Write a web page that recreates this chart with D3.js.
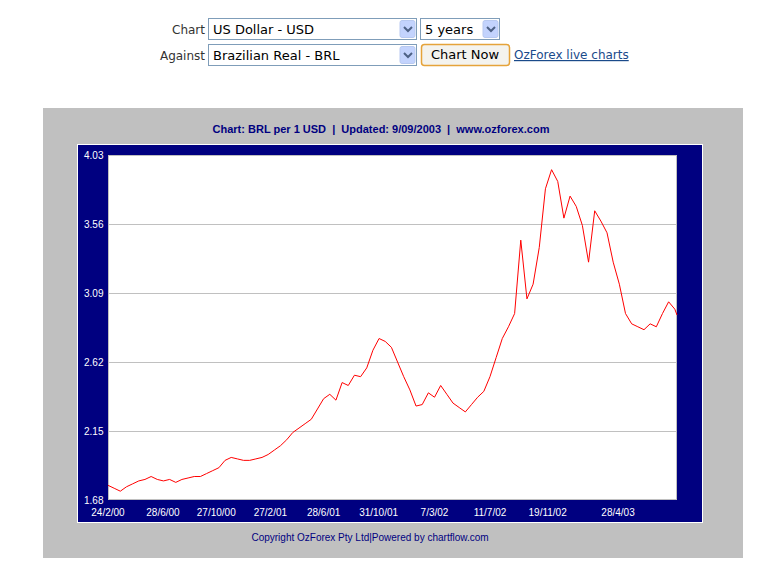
<!DOCTYPE html>
<html><head><meta charset="utf-8">
<script src="https://cdn.jsdelivr.net/npm/d3@7"></script>
<style>body{margin:0;background:#fff}</style>
</head><body>
<svg width="765" height="582"></svg>
<script>
// BRL per 1 USD, sampled roughly every two weeks from 24/2/00
const rates = [1.78,1.76,1.74,1.77,1.79,1.81,1.82,1.84,1.82,1.81,1.82,1.80,1.82,1.83,1.84,1.84,
  1.86,1.88,1.90,1.95,1.97,1.96,1.95,1.95,1.96,1.97,1.99,2.02,2.05,2.09,2.14,2.17,2.20,2.23,
  2.30,2.37,2.40,2.36,2.48,2.46,2.53,2.52,2.58,2.70,2.78,2.76,2.72,2.62,2.52,2.43,2.32,2.33,
  2.41,2.38,2.46,2.40,2.34,2.31,2.28,2.33,2.38,2.42,2.52,2.65,2.78,2.86,2.95,3.45,3.05,3.15,
  3.40,3.80,3.93,3.85,3.60,3.75,3.68,3.55,3.30,3.65,3.58,3.50,3.30,3.15,2.95,2.88,2.86,2.84,
  2.88,2.86,2.95,3.03,2.98];
const startDate = new Date(2000, 1, 24);
const endDate = new Date(2003, 8, 9);
const yTicks = [1.68, 2.15, 2.62, 3.09, 3.56, 4.03];
const xTickLabels = ["24/2/00","28/6/00","27/10/00","27/2/01","28/6/01","31/10/01","7/3/02","11/7/02","19/11/02","28/4/03"];

const parseDMY = d3.timeParse("%d/%m/%y");
const series = rates.map((v, i) => ({date: d3.timeDay.offset(startDate, Math.min(i * 14, 1293)), value: v}));
series.push({date: endDate, value: 2.94});

const svg = d3.select("svg");

// form controls
const ff = "Verdana, 'DejaVu Sans', sans-serif";
function label(x, y, t) {
  svg.append("text").attr("x", x).attr("y", y).attr("text-anchor", "end")
    .attr("font-family", ff).attr("font-size", 12).attr("fill", "#333").text(t);
}
function select(x, y, w, t) {
  svg.append("rect").attr("x", x + .5).attr("y", y + .5).attr("width", w).attr("height", 21)
    .attr("fill", "#fff").attr("stroke", "#7f9db9");
  svg.append("text").attr("x", x + 5).attr("y", y + 16).attr("font-family", ff)
    .attr("font-size", 13).attr("fill", "#000").text(t);
  svg.append("rect").attr("x", x + w - 16).attr("y", y + 2.5).attr("width", 15).attr("height", 17)
    .attr("rx", 2).attr("fill", "#c3d3fd").attr("stroke", "#b8c9f0");
  svg.append("path").attr("d", `M${x + w - 12},${y + 9} l4,4 l4,-4`).attr("fill", "none")
    .attr("stroke", "#4d6185").attr("stroke-width", 2);
}
label(205, 34, "Chart");
select(208, 18, 208, "US Dollar - USD");
select(420, 18, 79, "5 years");
label(205, 60, "Against");
select(208, 44, 208, "Brazilian Real - BRL");
svg.append("rect").attr("x", 421.5).attr("y", 44.5).attr("width", 88).attr("height", 21).attr("rx", 3)
  .attr("fill", "#f4f3ee").attr("stroke", "#e5a33a").attr("stroke-width", 1.5);
svg.append("text").attr("x", 465).attr("y", 59).attr("text-anchor", "middle").attr("font-family", ff)
  .attr("font-size", 13).text("Chart Now");
svg.append("text").attr("x", 514).attr("y", 59).attr("font-family", ff).attr("font-size", 12)
  .attr("fill", "#1a4a8a").attr("text-decoration", "underline").text("OzForex live charts");

// chart panel
svg.append("rect").attr("x", 43).attr("y", 108).attr("width", 700).attr("height", 450).attr("fill", "#c0c0c0");
svg.append("text").attr("x", 381).attr("y", 133).attr("text-anchor", "middle")
  .attr("font-family", "Arial, 'Liberation Sans', sans-serif").attr("font-weight", "bold").attr("font-size", 11)
  .attr("fill", "#000080").attr("xml:space", "preserve")
  .text("Chart: BRL per 1 USD  |  Updated: 9/09/2003  |  www.ozforex.com");
svg.append("rect").attr("x", 77.5).attr("y", 144.5).attr("width", 625).attr("height", 378)
  .attr("fill", "#000080").attr("stroke", "#fff");

const x = d3.scaleTime().domain([startDate, endDate]).range([108, 677]);
const y = d3.scaleLinear().domain([1.68, 4.03]).range([500, 155]);

svg.append("rect").attr("x", 108).attr("y", 155).attr("width", 569).attr("height", 345).attr("fill", "#fff");
svg.selectAll(".grid").data(yTicks.slice(1, -1)).join("line")
  .attr("x1", 108).attr("x2", 677).attr("y1", d => y(d) + .5).attr("y2", d => y(d) + .5)
  .attr("stroke", "#c0c0c0");
svg.append("rect").attr("x", 108.5).attr("y", 155.5).attr("width", 568).attr("height", 344)
  .attr("fill", "none").attr("stroke", "#c0c0c0");

const af = "Arial, 'Liberation Sans', sans-serif";
svg.selectAll(".yl").data(yTicks).join("text")
  .attr("x", 84).attr("y", d => y(d) + 4).attr("font-family", af).attr("font-size", 10)
  .attr("fill", "#fff").text(d => d.toFixed(2));
svg.selectAll(".xl").data(xTickLabels).join("text")
  .attr("x", d => x(parseDMY(d))).attr("y", 516).attr("text-anchor", "middle")
  .attr("font-family", af).attr("font-size", 10).attr("fill", "#fff").text(d => d);

svg.append("path").datum(series)
  .attr("d", d3.line().x(d => x(d.date)).y(d => y(d.value)))
  .attr("fill", "none").attr("stroke", "#ff0000").attr("stroke-width", 1);

svg.append("text").attr("x", 370).attr("y", 541).attr("text-anchor", "middle").attr("font-family", af)
  .attr("font-size", 10).attr("fill", "#000080").text("Copyright OzForex Pty Ltd|Powered by chartflow.com");
</script>
</body></html>
